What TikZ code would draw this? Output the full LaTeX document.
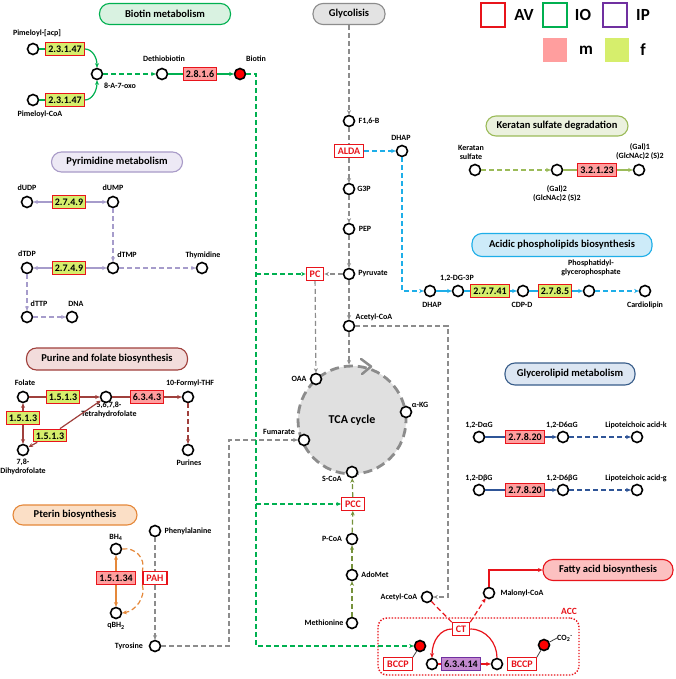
\documentclass[tikz,border=0pt]{standalone}
\usepackage{fontspec}
\setmainfont{Carlito}
\usetikzlibrary{arrows.meta}
\definecolor{avred}{HTML}{E8141B}
\definecolor{iogreen}{HTML}{00B050}
\definecolor{ippurple}{HTML}{7030A0}
\definecolor{mfill}{HTML}{FF9E9E}
\definecolor{ffill}{HTML}{D6EE6C}
\definecolor{greyln}{HTML}{8C8C8C}
\definecolor{pyrln}{HTML}{A69CCB}
\definecolor{purln}{HTML}{A0403C}
\definecolor{ptln}{HTML}{E5883A}
\definecolor{kerln}{HTML}{9BBB59}
\definecolor{bluln}{HTML}{1EAEE8}
\definecolor{gllln}{HTML}{2F5597}
\definecolor{oliveln}{HTML}{76923C}
\definecolor{violetfill}{HTML}{C48BD0}
\definecolor{biofill}{HTML}{D9F2E1}
\definecolor{glyfill}{HTML}{E3E3E3}
\definecolor{pyrfill}{HTML}{EDE9F5}
\definecolor{pyrdraw}{HTML}{A99BC8}
\definecolor{purfill}{HTML}{F2DCDB}
\definecolor{ptfill}{HTML}{FBDFC6}
\definecolor{kerfill}{HTML}{EBF1DE}
\definecolor{acifill}{HTML}{CDEBF9}
\definecolor{glfill}{HTML}{DCE6F2}
\definecolor{gldraw}{HTML}{385D8A}
\definecolor{fafill}{HTML}{FCC0C0}
\definecolor{tcafill}{HTML}{E0E0E0}
\begin{document}
\begin{tikzpicture}[x=1pt,y=-1pt,
  met/.style={circle,draw=black,line width=1.6pt,fill=white,minimum size=11pt,inner sep=0pt},
  metr/.style={met,fill=red},
  lab/.style={font=\fontsize{8}{9}\selectfont\bfseries,inner sep=0pt,align=center},
  enz/.style={draw=avred,line width=1.2pt,font=\fontsize{10}{11}\selectfont\bfseries,inner xsep=2.5pt,inner ysep=0pt,minimum height=12.5pt,text height=7pt,text depth=0pt},
  enzf/.style={enz,fill=ffill},
  enzm/.style={enz,fill=mfill},
  rbox/.style={draw=avred,fill=white,text=avred,line width=1.2pt,font=\fontsize{10}{11}\selectfont\bfseries,inner xsep=3.5pt,inner ysep=0pt,minimum height=12.5pt,text height=7pt,text depth=0pt},
  ttl/.style={rounded corners=10pt,line width=1.1pt,minimum height=21pt,font=\fontsize{10.5}{12}\selectfont\bfseries,inner sep=0pt},
  leg/.style={minimum size=24pt,inner sep=0pt,line width=1.8pt},
  legt/.style={font=\fontsize{17}{19}\selectfont\bfseries,inner sep=0pt},
  arr/.style={-{Stealth[length=4.5pt,width=4pt]}},
  dsh/.style={dash pattern=on 5pt off 3pt},
  ln/.style={line width=1.2pt},
  gy/.style={ln,greyln,dsh},
  bl/.style={ln,bluln},
  py/.style={ln,pyrln},
  pu/.style={ln,purln},
  pt/.style={ln,ptln},
  ke/.style={ln,kerln},
  gl/.style={ln,gllln},
  ol/.style={ln,oliveln,dsh},
  gr/.style={ln,iogreen},
  rd/.style={ln,avred},
]
\fill[white] (0,0) rectangle (676,679);
\useasboundingbox (0,0) rectangle (676,679);

% ---------- legend ----------
\node[leg,draw=avred] (lav) at (493,15) {};
\node[legt] (tav) at (524,15) {AV};
\node[leg,draw=iogreen] (lio) at (555,15) {};
\node[legt] (tio) at (583,15) {IO};
\node[leg,draw=ippurple] (lip) at (615,15) {};
\node[legt] (tip) at (643,15) {IP};
\node[leg,fill=mfill] (lm) at (555,50) {};
\node[legt] (tm) at (586,50) {m};
\node[leg,fill=ffill] (lf) at (617,50) {};
\node[legt] (tf) at (643,50) {f};

% ---------- titles ----------
\node[ttl,draw=iogreen,fill=biofill,minimum width=131pt] (tbio) at (165,14) {Biotin metabolism};
\node[ttl,draw=greyln,fill=glyfill,minimum width=72pt] (tgly) at (349,14) {Glycolisis};
\node[ttl,draw=pyrdraw,fill=pyrfill,minimum width=131pt,minimum height=20pt] (tpyr) at (117,162) {Pyrimidine metabolism};
\node[ttl,draw=purln,fill=purfill,minimum width=161pt,minimum height=22pt] (tpur) at (107,359) {Purine and folate biosynthesis};
\node[ttl,draw=ptln,fill=ptfill,minimum width=124pt,minimum height=20pt] (tpt) at (75,515) {Pterin biosynthesis};
\node[ttl,draw=kerln,fill=kerfill,minimum width=142pt,minimum height=20pt] (tker) at (557,126) {Keratan sulfate degradation};
\node[ttl,draw=bluln,fill=acifill,minimum width=180pt,minimum height=23pt] (taci) at (562,245) {Acidic phospholipids biosynthesis};
\node[ttl,draw=gldraw,fill=glfill,minimum width=130pt,minimum height=22pt] (tgl) at (570,374) {Glycerolipid metabolism};
\node[ttl,draw=avred,fill=fafill,minimum width=130pt] (tfa) at (608,570) {Fatty acid biosynthesis};

% ---------- biotin ----------
\node[met] (pacp) at (33,49) {};
\node[enzf] (e1) at (65,49) {2.3.1.47};
\node[met] (pcoa) at (33,100) {};
\node[enzf] (e2) at (65,100) {2.3.1.47};
\node[met] (oxo) at (97,74) {};
\node[met] (dthb) at (162,74) {};
\node[enzm] (e3) at (200,74) {2.8.1.6};
\node[metr] (btn) at (240,74) {};
\node[lab] (lpacp) at (37,33) {Pimeloyl-[acp]};
\node[lab] (lpcoa) at (40,114) {Pimeloyl-CoA};
\node[lab] (loxo) at (120,86) {8-A-7-oxo};
\node[lab] (ldthb) at (164,59) {Dethiobiotin};
\node[lab] (lbtn) at (256,59) {Biotin};
\draw[gr] (pacp) -- (e1);
\draw[gr,arr] (e1.east) .. controls (92,49) and (97,57) .. (oxo.north);
\draw[gr] (pcoa) -- (e2);
\draw[gr,arr] (e2.east) .. controls (92,100) and (97,91) .. (oxo.south);
\draw[gr,dsh,arr] (oxo) -- (dthb);
\draw[gr] (dthb) -- (e3);
\draw[gr,arr] (e3) -- (btn);

% ---------- glycolysis / TCA ----------
\node[met] (f16b) at (349,121) {};
\node[rbox] (alda) at (349,151) {ALDA};
\node[met] (dhap) at (402,151) {};
\node[met] (g3p) at (349,189) {};
\node[met] (pep) at (349,229) {};
\node[met] (pyr) at (349,274) {};
\node[met] (accoa) at (349,326) {};
\node[rbox] (pc) at (315,274) {PC};
\node[circle,draw=greyln,fill=tcafill,line width=2.8pt,dash pattern=on 9pt off 5pt,minimum size=108pt,inner sep=0pt,font=\fontsize{12}{14}\selectfont\bfseries] (tca) at (352,420) {TCA cycle};
\draw[greyln,line width=2.5pt,line cap=round,line join=round] (361,359) -- (371,366.5) -- (362,374);
\node[met] (oaa) at (316,379) {};
\node[met] (akg) at (406,412) {};
\node[met] (fum) at (304,440) {};
\node[met] (scoa) at (352,472) {};
\node[rbox] (pcc) at (353,504) {PCC};
\node[met] (pcoa2) at (352,539) {};
\node[met] (adomet) at (352,575) {};
\node[met] (meth) at (352,623) {};
\node[lab] (lf16b) at (369,121) {F1,6-B};
\node[lab] (ldhap) at (401,138) {DHAP};
\node[lab] (lg3p) at (364,189) {G3P};
\node[lab] (lpep) at (365,229) {PEP};
\node[lab] (lpyr) at (373,274) {Pyruvate};
\node[lab] (laccoa) at (374,317) {Acetyl-CoA};
\node[lab] (loaa) at (299,379) {OAA};
\node[lab] (lakg) at (420,405) {α-KG};
\node[lab] (lfum) at (279,432) {Fumarate};
\node[lab] (lscoa) at (332,479) {S-CoA};
\node[lab] (lpcoa2) at (332,539) {P-CoA};
\node[lab] (ladomet) at (375,575) {AdoMet};
\node[lab] (lmeth) at (324,623) {Methionine};
\draw[gy,arr] (tgly) -- (f16b);
\draw[gy] (f16b) -- (alda);
\draw[gy,arr] (alda) -- (g3p);
\draw[gy,arr] (g3p) -- (pep);
\draw[gy,arr] (pep) -- (pyr);
\draw[gy,arr] (pyr) -- (accoa);
\draw[gy,arr] (accoa) -- (accoa |- tca.north);
\draw[gy,arr] (pyr) -- (pc);
\draw[gy,arr] (pc) -- (oaa);
\draw[ol,arr] (meth) -- (adomet);
\draw[ol,arr] (adomet) -- (pcoa2);
\draw[ol,arr] (pcoa2) -- (pcc);
\draw[ol,arr] (pcc) -- (scoa);

% ---------- keratan ----------
\node[met] (ks) at (475,170) {};
\node[met] (gal2) at (557,170) {};
\node[enzm] (e32123) at (597,170) {3.2.1.23};
\node[met] (gal1) at (639,170) {};
\node[lab] (lks) at (471,152) {Keratan\\sulfate};
\node[lab] (lgal2) at (557,194) {(Gal)2\\(GlcNAc)2 (S)2};
\node[lab] (lgal1) at (640,152) {(Gal)1\\(GlcNAc)2 (S)2};
\draw[ke,dsh,arr] (ks) -- (gal2);
\draw[ke] (gal2) -- (e32123);
\draw[ke,arr] (e32123) -- (gal1);

% ---------- acidic phospholipids ----------
\node[met] (dhap2) at (430,291) {};
\node[met] (dg3p) at (458,291) {};
\node[enzf] (e27741) at (490,291) {2.7.7.41};
\node[met] (cdpd) at (523,291) {};
\node[enzf] (e2785) at (555,291) {2.7.8.5};
\node[met] (pgp) at (589,291) {};
\node[met] (cardio) at (645,291) {};
\node[lab] (ldhap2) at (432,305) {DHAP};
\node[lab] (ldg3p) at (457,278) {1,2-DG-3P};
\node[lab] (lcdpd) at (522,305) {CDP-D};
\node[lab] (lpgp) at (591,268) {Phosphatidyl-\\glycerophosphate};
\node[lab] (lcardio) at (645,305) {Cardiolipin};
\draw[bl,dsh,arr] (alda) -- (dhap);
\draw[bl,dsh,arr] (dhap) |- (dhap2);
\draw[bl,arr] (dhap2) -- (dg3p);
\draw[bl] (dg3p) -- (e27741);
\draw[bl,arr] (e27741) -- (cdpd);
\draw[bl] (cdpd) -- (e2785);
\draw[bl,arr] (e2785) -- (pgp);
\draw[bl,dsh,arr] (pgp) -- (cardio);

% ---------- glycerolipid ----------
\node[met] (dag) at (479,437) {};
\node[enzm] (e2a) at (525,437) {2.7.8.20};
\node[met] (d6ag) at (563,437) {};
\node[met] (ltak) at (637,437) {};
\node[met] (dbg) at (479,490) {};
\node[enzm] (e2b) at (525,490) {2.7.8.20};
\node[met] (d6bg) at (563,490) {};
\node[met] (ltag) at (637,490) {};
\node[lab] (ldag) at (479,425) {1,2-DαG};
\node[lab] (ld6ag) at (562,425) {1,2-D6αG};
\node[lab] (lltak) at (636,425) {Lipoteichoic acid-k};
\node[lab] (ldbg) at (479,478) {1,2-DβG};
\node[lab] (ld6bg) at (562,478) {1,2-D6βG};
\node[lab] (lltag) at (636,478) {Lipoteichoic acid-g};
\draw[gl] (dag) -- (e2a);
\draw[gl,arr] (e2a) -- (d6ag);
\draw[gl,dsh,arr] (d6ag) -- (ltak);
\draw[gl] (dbg) -- (e2b);
\draw[gl,arr] (e2b) -- (d6bg);
\draw[gl,dsh,arr] (d6bg) -- (ltag);

% ---------- pyrimidine ----------
\node[met] (dudp) at (27,202) {};
\node[enzf] (e2749a) at (69,202) {2.7.4.9};
\node[met] (dump) at (113,202) {};
\node[met] (dtdp) at (27,268) {};
\node[enzf] (e2749b) at (69,268) {2.7.4.9};
\node[met] (dtmp) at (113,268) {};
\node[met] (thym) at (202,268) {};
\node[met] (dttp) at (27,317) {};
\node[met] (dna) at (72,317) {};
\node[lab] (ldudp) at (27,188) {dUDP};
\node[lab] (ldump) at (113,188) {dUMP};
\node[lab] (ldtdp) at (27,254) {dTDP};
\node[lab] (ldtmp) at (127,255) {dTMP};
\node[lab] (lthym) at (203,255) {Thymidine};
\node[lab] (ldttp) at (39,304) {dTTP};
\node[lab] (ldna) at (76,304) {DNA};
\draw[py,arr] (e2749a) -- (dudp);
\draw[py,arr] (e2749a) -- (dump);
\draw[py,dsh,arr] (dump) -- (dtmp);
\draw[py,arr] (e2749b) -- (dtdp);
\draw[py,arr] (e2749b) -- (dtmp);
\draw[py,dsh,arr] (dtmp) -- (thym);
\draw[py,dsh,arr] (dtdp) -- (dttp);
\draw[py,dsh,arr] (dttp) -- (dna);

% ---------- purine / folate ----------
\node[met] (fol) at (23,397) {};
\node[enzf] (e151a) at (63,397) {1.5.1.3};
\node[met] (thf) at (106,397) {};
\node[enzm] (e6343) at (147,397) {6.3.4.3};
\node[met] (fthf) at (188,397) {};
\node[met] (pur) at (188,450) {};
\node[met] (dhf) at (23,450) {};
\node[enzf] (e151b) at (23,418) {1.5.1.3};
\node[enzf] (e151c) at (50,435.5) {1.5.1.3};
\node[lab] (lfol) at (25,383) {Folate};
\node[lab] (lfthf) at (190,383) {10-Formyl-THF};
\node[lab] (lthf) at (109,410) {5,6,7,8-\\Tetrahydrofolate};
\node[lab] (lpur) at (189,463) {Purines};
\node[lab] (ldhf) at (23,467) {7,8-\\Dihydrofolate};
\draw[pu] (fol) -- (e151a);
\draw[pu,arr] (e151a) -- (thf);
\draw[pu] (thf) -- (e6343);
\draw[pu,arr] (e6343) -- (fthf);
\draw[pu,dsh,arr] (fthf) -- (pur);
\draw[pu,arr] (e151b) -- (fol);
\draw[pu,arr] (e151b) -- (dhf);
\draw[pu,arr] (e151c) -- (thf);
\draw[pu,arr] (e151c) -- (dhf);

% ---------- pterin ----------
\node[met] (bh4) at (116,549) {};
\node[enzm] (e15134) at (116,578) {1.5.1.34};
\node[met] (qbh2) at (116,613) {};
\node[rbox] (pah) at (155,578) {PAH};
\node[met] (phe) at (155,531) {};
\node[met] (tyr) at (155,646) {};
\node[lab] (lbh4) at (116,537) {BH\textsubscript{4}};
\node[lab] (lqbh2) at (116,626) {qBH\textsubscript{2}};
\node[lab] (lphe) at (188,531) {Phenylalanine};
\node[lab] (ltyr) at (129,646) {Tyrosine};
\draw[pt,arr] (e15134) -- (bh4);
\draw[pt,arr] (e15134) -- (qbh2);
\draw[pt,dsh] (bh4.east) .. controls (135,547) and (146,558) .. (pah.north west);
\draw[pt,dsh,arr] (pah.south west) .. controls (146,598) and (135,611) .. (qbh2.east);
\draw[gy] (phe) -- (pah);
\draw[gy,arr] (pah) -- (tyr);
\draw[gy,arr] (tyr) -- (229,646) -- (229,440) -- (fum);

% ---------- ACC ----------
\node[draw=avred,line width=1.4pt,dash pattern=on 1.4pt off 1.6pt,rounded corners=9pt,minimum width=201pt,minimum height=57pt,inner sep=0pt] (acc) at (478.5,646.5) {};
\node[lab,text=avred,font=\fontsize{9.5}{11}\selectfont\bfseries] (lacc) at (569,611) {ACC};
\node[met] (accoa2) at (427,597) {};
\node[met] (mal) at (489,593) {};
\node[rbox] (ct) at (461,629) {CT};
\node[metr] (bc1) at (420,646) {};
\node[rbox] (bccp1) at (398,664) {BCCP};
\node[met] (lc) at (432,664) {};
\node[enz,draw=ippurple,fill=violetfill] (e63414) at (461,664) {6.3.4.14};
\node[met] (rc) at (497,664) {};
\node[rbox] (bccp2) at (522,664) {BCCP};
\node[metr] (bc2) at (544,645) {};
\node[lab,anchor=west] (lco2) at (557,638) {CO\textsubscript{2}\textsuperscript{-}};
\node[lab] (laccoa2) at (399,597) {Acetyl-CoA};
\node[lab] (lmal) at (522,593) {Malonyl-CoA};
\draw[gy,arr] (accoa) -- (448,326) -- (448,597) -- (accoa2);
\draw[rd] (lc) -- (e63414);
\draw[rd,arr] (e63414) -- (rc);
\draw[rd] (rc.north) .. controls (497,643) and (486,629) .. (ct.east);
\draw[rd,arr] (ct.west) .. controls (441,629) and (432,640) .. (lc.north);
\draw[rd,dsh] (accoa2) -- (ct.north west);
\draw[rd,dsh,arr] (ct.north east) -- (mal);
\draw[rd,arr] (mal) -- (489,570) -- (tfa);
\draw[line width=0.8pt,black!75] (bc1) -- (bccp1.north east);
\draw[line width=0.8pt,black!75] (bc2) -- (bccp2.north east);
\draw[line width=0.8pt,black!75] (bc2) -- (lco2.west);

% ---------- green biotin connections ----------
\coordinate (gj1) at (256,274);
\coordinate (gj2) at (256,504);
\draw[gr,dsh,arr] (btn) -- (256,74) -- (256,646) -- (bc1);
\draw[gr,dsh,arr] (gj1) -- (pc);
\draw[gr,dsh,arr] (gj2) -- (pcc);
\end{tikzpicture}
\end{document}
